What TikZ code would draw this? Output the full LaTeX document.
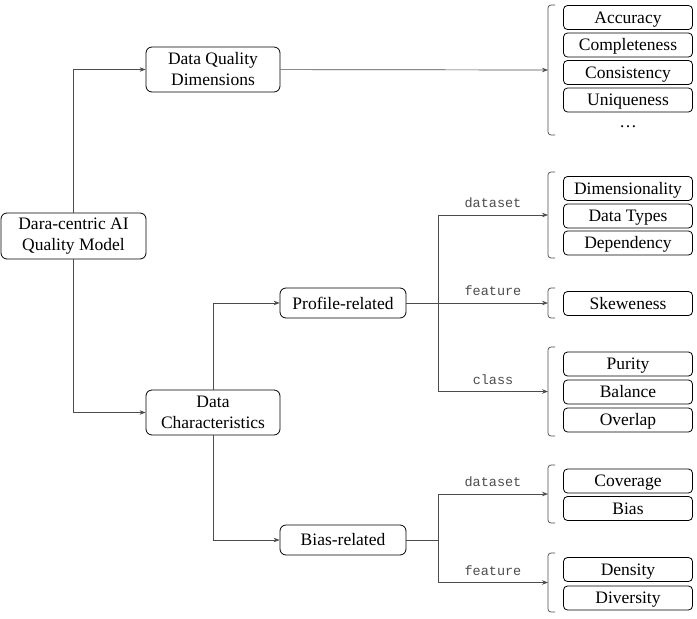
\documentclass[tikz,border=0pt]{standalone}
\usepackage{fontspec}
\setmainfont{Liberation Serif}
\setmonofont{Liberation Mono}
\usetikzlibrary{arrows.meta}
\tikzstyle{block}=[draw,line width=0.8pt,rounded corners=6pt,align=center,inner sep=0pt,font=\rmfamily\fontsize{17.5}{21}\selectfont]
\tikzstyle{item}=[draw,line width=0.8pt,rounded corners=4pt,minimum width=129pt,minimum height=24pt,inner sep=0pt,text height=13pt,text depth=2pt,font=\rmfamily\fontsize{17.5}{21}\selectfont]
\tikzstyle{wire}=[draw,black!70,line width=0.7pt]
\tikzstyle{edge}=[wire,-{Stealth[length=6pt,width=4.5pt]}]
\tikzstyle{bracket}=[draw,black!70,line width=0.7pt,rounded corners=3pt]
\tikzstyle{tag}=[font=\ttfamily\fontsize{13.5}{15}\selectfont,inner sep=2pt,above=5pt]

\begin{document}
\begin{tikzpicture}[x=1pt,y=-1pt]
    \useasboundingbox (0,0) rectangle (697,619);
    % Main blocks of the model
    \node[block,minimum width=145pt,minimum height=46pt] (root) at (73.5,236) {Dara-centric AI\\Quality Model};
    \node[block,minimum width=134pt,minimum height=45pt] (dqd) at (213,69.5) {Data Quality\\Dimensions};
    \node[block,minimum width=134pt,minimum height=45pt] (dc) at (213,412.5) {Data\\Characteristics};
    \node[block,minimum width=126pt,minimum height=30pt] (prof) at (343,303) {Profile-related};
    \node[block,minimum width=126pt,minimum height=30pt] (bias) at (343,540) {Bias-related};

    % Brackets on the right, with a coordinate in the middle of each
    \foreach \top/\bot/\name in {5/135/qd, 172/258/ds, 288/318/ft, 347/436/cl, 465/523/bd, 553/612/bf}{
        \draw[bracket] (555,\top) -- (548,\top) -- (548,\bot) -- (555,\bot);
        \coordinate (\name) at (548,{(\top+\bot)/2});
    }

    % Items inside the brackets
    \foreach \pos/\name/\word in {{(628,17.5)/acc/Accuracy}, {(628,45)/comp/Completeness}, {(628,72.5)/cons/Consistency}, {(628,100)/uniq/Uniqueness},
        {(628,188.5)/dim/Dimensionality}, {(628,216)/dtype/Data Types}, {(628,243)/dep/Dependency}, {(628,303.5)/skew/Skeweness},
        {(628,364)/pur/Purity}, {(628,392)/bal/Balance}, {(628,420)/ovl/Overlap}, {(628,481)/cov/Coverage}, {(628,508.5)/bs/Bias},
        {(628,569.5)/den/Density}, {(628,598)/div/Diversity}}
        \node[item] (\name) at \pos {\word};
    \node[font=\rmfamily\fontsize{17.5}{21}\selectfont] (more) at (628,127) {\dots};

    % Junctions for the split connectors
    \coordinate (pj) at (438,303);
    \coordinate (bj) at (438,540);

    % Connect the blocks
    \path[edge] (root.north) |- (dqd);
    \path[edge] (root.south) |- (dc);
    \path[edge] (dqd) -- (qd);
    \path[edge] (dc.north) |- (prof);
    \path[edge] (dc.south) |- (bias);
    \path[wire] (prof) -- (pj);
    \path[wire] (bias) -- (bj);
    \path[edge] (pj) |- node[tag,pos=0.75] {dataset} (ds);
    \path[edge] (pj) -- node[tag] {feature} (ft);
    \path[edge] (pj) |- node[tag,pos=0.75] {class} (cl);
    \path[edge] (bj) |- node[tag,pos=0.75] {dataset} (bd);
    \path[edge] (bj) |- node[tag,pos=0.75] {feature} (bf);
\end{tikzpicture}
\end{document}
